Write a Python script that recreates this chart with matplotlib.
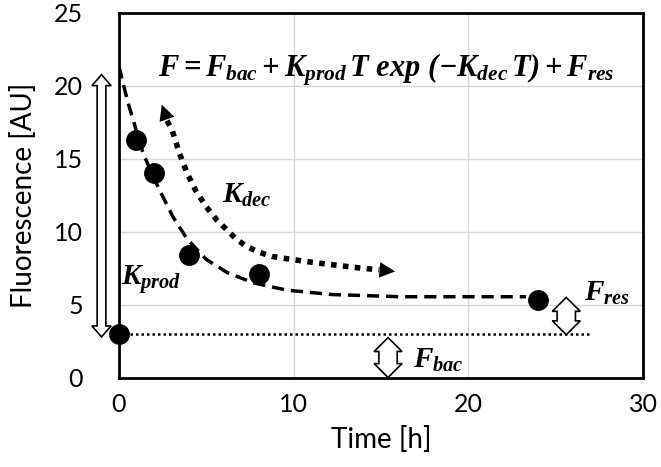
import numpy as np
import matplotlib
matplotlib.use('Agg')
import matplotlib.pyplot as plt
from matplotlib.patches import Polygon

# measured points
t_obs = [0, 1, 2, 4, 8, 24]
f_obs = [3.0, 16.3, 14.0, 8.4, 7.1, 5.3]

# fitted curve
t_fit = [0, 0.5, 1.4, 2.3, 3.1, 3.9, 5.0, 6.2, 7.7, 9.6, 12.2, 16.1, 20, 23.3]
f_fit = [21.3, 18.9, 15.3, 12.9, 11.0, 9.5, 8.1, 7.2, 6.5, 6.0, 5.7, 5.55, 5.55, 5.55]

# dotted K_dec guide arrow
t_dec = [2.75, 3.03, 3.45, 3.9, 4.4, 5.0, 5.6, 6.2, 6.7, 7.3, 8.0, 8.8, 9.9, 11.1, 12.5, 13.9, 14.9]
f_dec = [17.6, 17.0, 15.4, 14.0, 12.8, 11.7, 10.8, 10.1, 9.5, 9.0, 8.6, 8.3, 8.1, 7.9, 7.7, 7.5, 7.4]

f_bac = 3.0
f_res = 5.5
t_bac_end = 27.1

xticks = [0, 10, 20, 30]
yticks = [0, 5, 10, 15, 20, 25]

plt.rcParams['mathtext.fontset'] = 'custom'
plt.rcParams['mathtext.rm'] = 'Liberation Serif:bold:italic'
plt.rcParams['mathtext.it'] = 'Liberation Serif:bold:italic'
plt.rcParams['mathtext.bf'] = 'Liberation Serif:bold:italic'
plt.rcParams['font.family'] = ['Lato', 'DejaVu Sans']


def double_arrow(ax, x, y0, y1, shaft_w, head_w, head_len, lw=1.2):
    hs, hh = shaft_w / 2., head_w / 2.
    pts = [(x, y1), (x + hh, y1 - head_len), (x + hs, y1 - head_len),
           (x + hs, y0 + head_len), (x + hh, y0 + head_len), (x, y0),
           (x - hh, y0 + head_len), (x - hs, y0 + head_len),
           (x - hs, y1 - head_len), (x - hh, y1 - head_len)]
    ax.add_patch(Polygon(pts, closed=True, facecolor='white', edgecolor='black',
                         lw=lw, clip_on=False, zorder=5, joinstyle='miter'))


fig = plt.figure(figsize=(6.61, 4.67), dpi=100)
ax = fig.add_axes([0.180, 0.191, 0.793, 0.782])
ax.set_xlim(0, 30)
ax.set_ylim(0, 25)
ax.set_xticks(xticks)
ax.set_yticks(yticks)
ax.grid(True, color='#d9d9d9', lw=1)
ax.set_axisbelow(True)
for s in ax.spines.values():
    s.set_linewidth(2.0)
    s.set_color('black')
ax.tick_params(length=0, labelsize=18, pad=11)
ax.tick_params(axis='y', pad=26)
ax.set_xlabel('Time [h]', fontsize=20, labelpad=7)
ax.set_ylabel('Fluorescence [AU]', fontsize=20, labelpad=12)

ax.plot([0, t_bac_end], [f_bac, f_bac], color='black', lw=1.8,
        linestyle=(0, (1, 1.2)), zorder=3)
ax.plot(t_fit, f_fit, color='black', lw=2.5, linestyle=(0, (3.5, 2)), zorder=3)
ax.plot(t_dec, f_dec, color='black', lw=4.0, linestyle=(0, (1, 1.15)),
        solid_capstyle='butt', zorder=3)
ax.annotate('', xy=(2.45, 18.7), xytext=(2.8, 17.5),
            arrowprops=dict(arrowstyle='-|>', color='black', lw=0,
                            mutation_scale=28, shrinkA=0, shrinkB=0))
ax.annotate('', xy=(15.8, 7.28), xytext=(14.8, 7.4),
            arrowprops=dict(arrowstyle='-|>', color='black', lw=0,
                            mutation_scale=28, shrinkA=0, shrinkB=0))
ax.plot(t_obs, f_obs, 'o', color='black', markersize=14, clip_on=False, zorder=6)

# hollow double arrows
double_arrow(ax, -1.0, 2.8, 20.75, 0.5, 1.1, 0.75)
double_arrow(ax, 25.6, 2.95, 5.5, 1.05, 1.6, 0.95)
double_arrow(ax, 15.4, 0.02, 2.75, 1.05, 1.6, 0.95)

ax.text(15.3, 21.1, r'$F = F_{bac} + K_{prod}\,T\ exp\ (-K_{dec}\,T) + F_{res}$',
        fontsize=22, ha='center', va='center')
ax.text(5.9, 12.5, r'$K_{dec}$', fontsize=21, ha='left', va='center')
ax.text(0.1, 6.7, r'$K_{prod}$', fontsize=21, ha='left', va='center')
ax.text(26.6, 5.8, r'$F_{res}$', fontsize=21, ha='left', va='center')
ax.text(16.8, 1.2, r'$F_{bac}$', fontsize=21, ha='left', va='center')

fig.savefig('out.png', dpi=100)
